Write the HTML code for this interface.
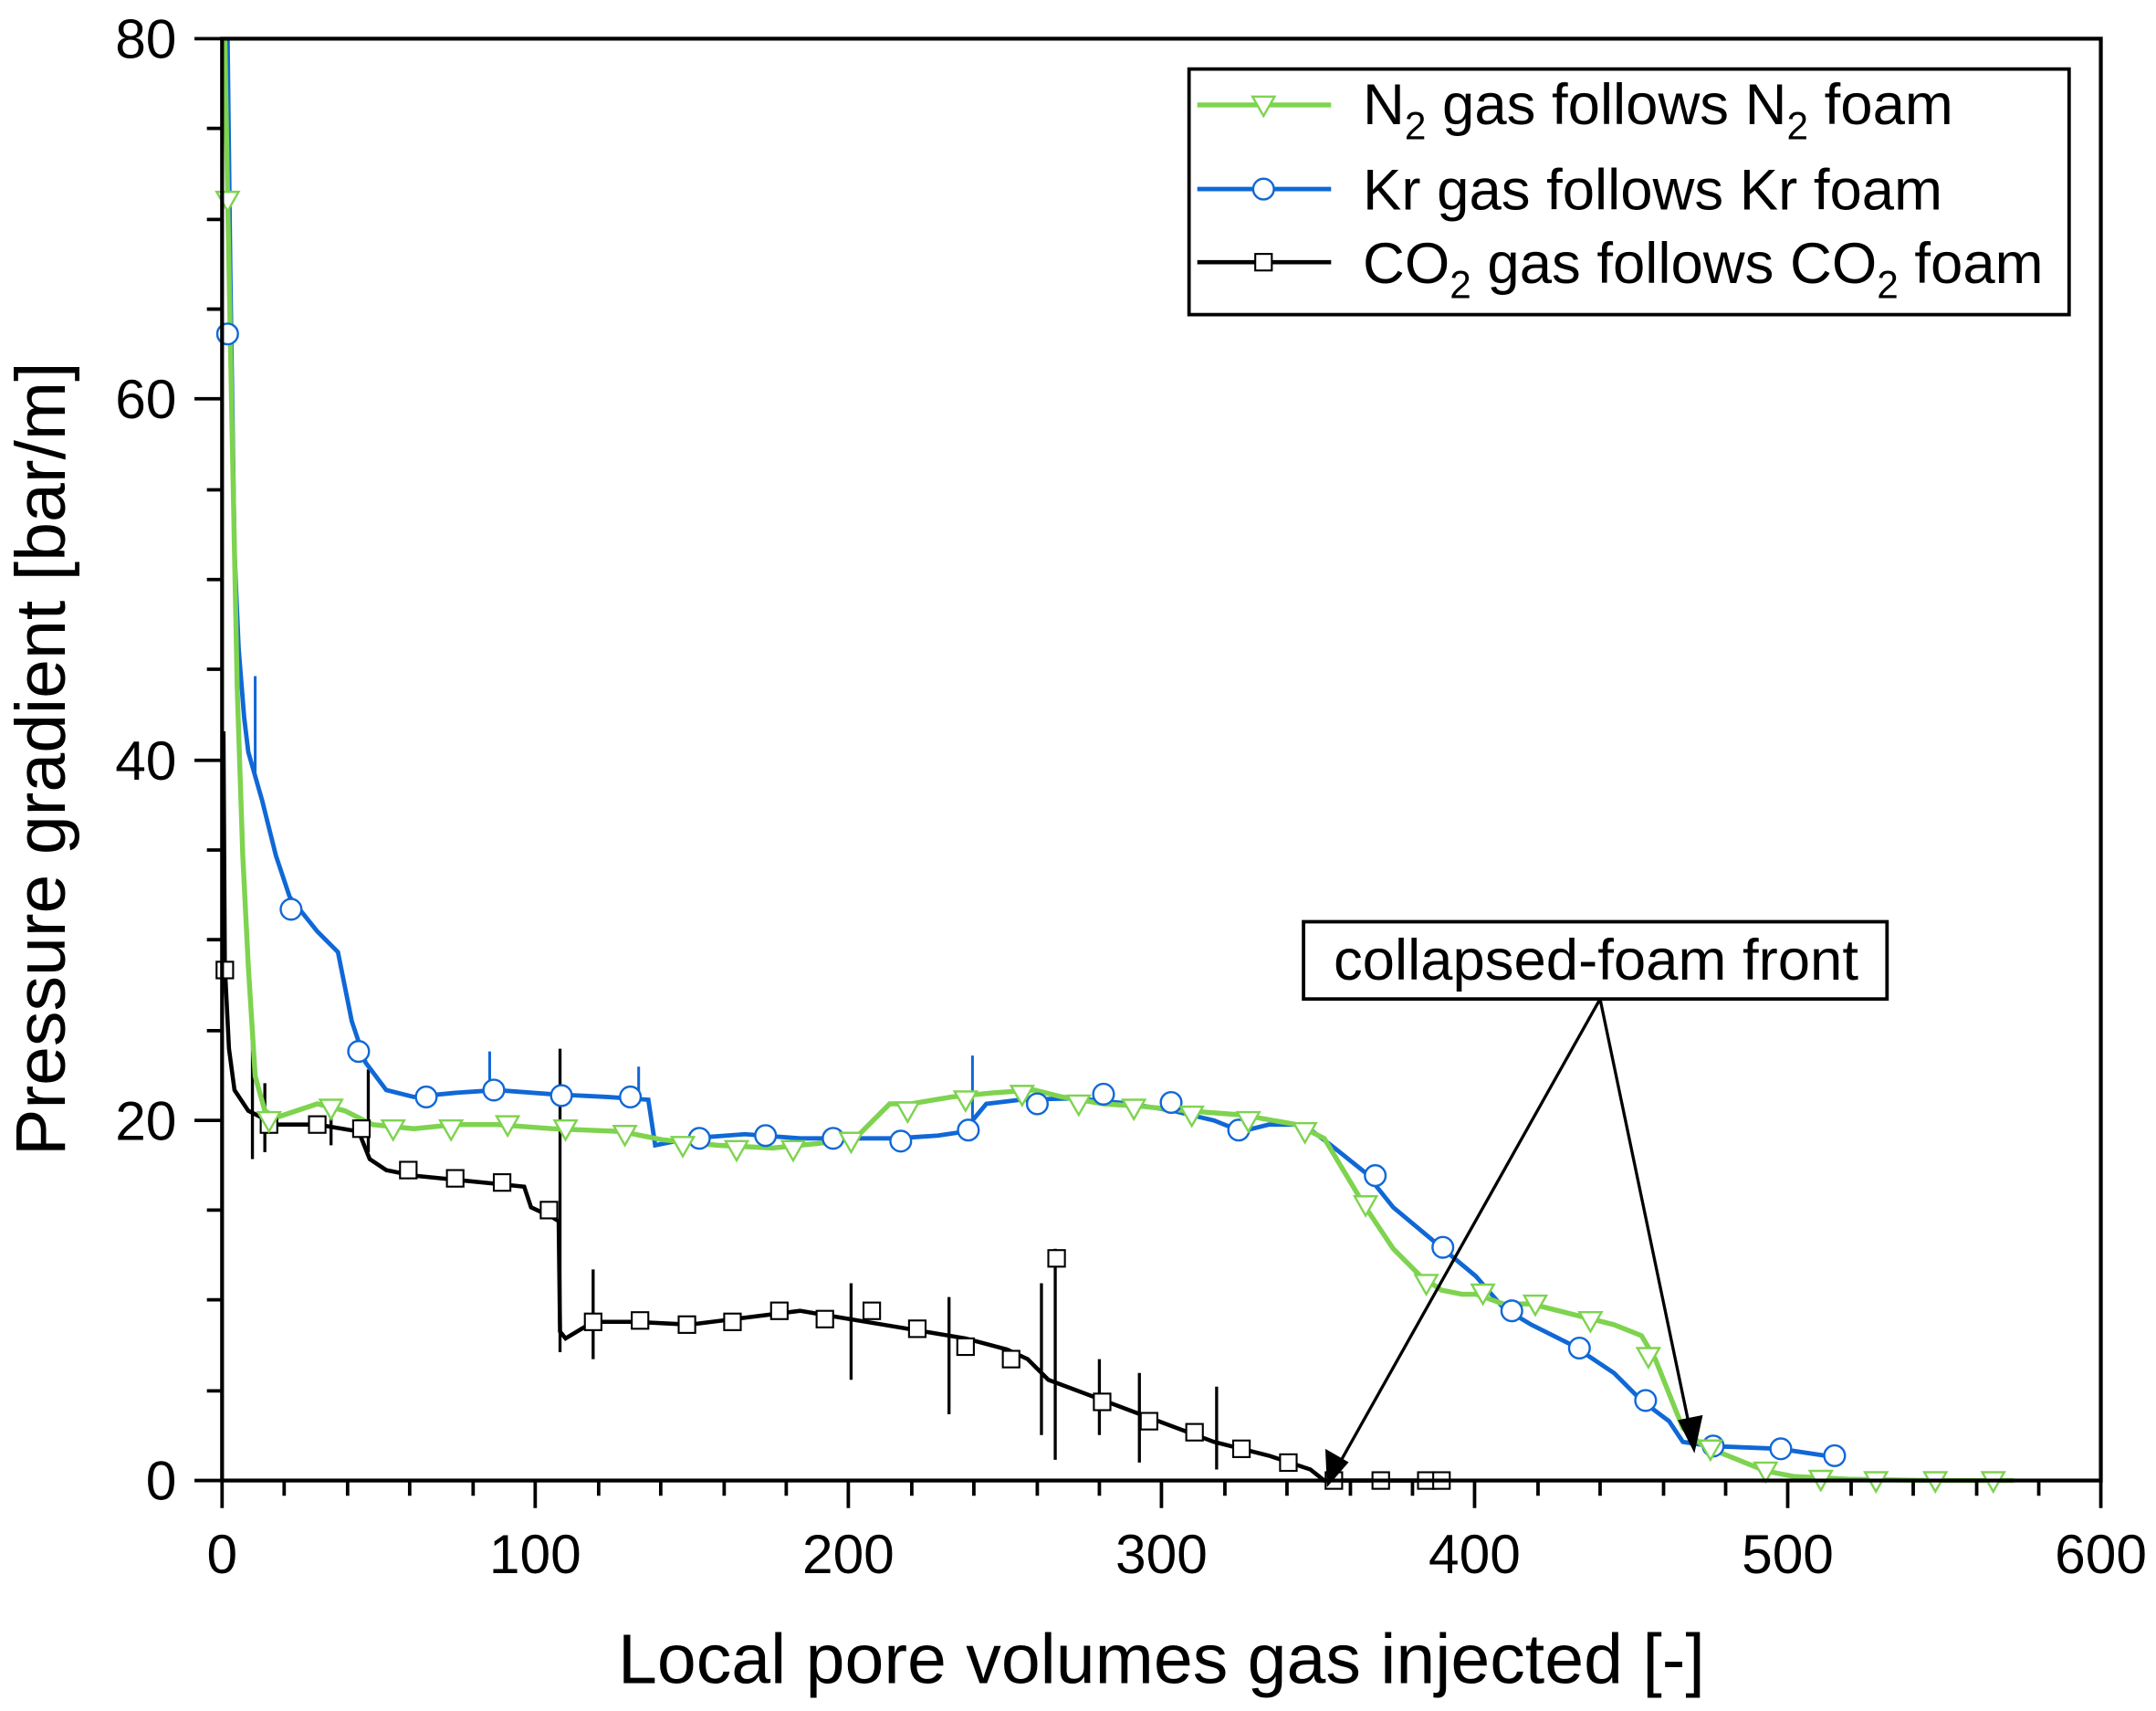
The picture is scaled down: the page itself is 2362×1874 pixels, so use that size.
<!DOCTYPE html>
<html><head><meta charset="utf-8"><style>html,body{margin:0;padding:0;background:#fff}svg{display:block}</style></head>
<body>
<svg width="2362" height="1874" viewBox="0 0 1563 1240" xmlns="http://www.w3.org/2000/svg" font-family="'Liberation Sans', sans-serif">
<rect width="1563" height="1240" fill="#fff"/>
<defs>
<path id="tri" d="M-8,-6 L8,-6 L0,8 Z" fill="#fff" stroke="#7ed34f" stroke-width="1.6"/>
<circle id="cir" r="7.5" fill="#fff" stroke="#1068d6" stroke-width="1.6"/>
<rect id="sq" x="-6" y="-6" width="12" height="12" fill="#fff" stroke="#000" stroke-width="1.4"/>
</defs>
<g stroke="#000" stroke-width="3" fill="none">
<polyline points="162,530 163,700 166,760 170,790 180,805 200,815 230,815 260,820 268,840 280,848 300,852 330,855 360,858 380,860 385,875 400,882 405,885 406,965 410,970 430,958 460,958 500,960 540,955 580,950 610,955 640,960 670,965 700,970 730,978 745,985 760,1000 800,1015 840,1030 880,1045 920,1055 950,1065 960,1073 1045,1073"/>
<path d="M183,755V840 M267,775V835 M406,760V980 M430,920V985 M617,930V1000 M688,940V1025 M755,930V1040 M765,905V1058 M797,985V1040 M826,995V1060 M882,1005V1065 M192,785V835 M240,800V830" stroke-width="2.2"/>
</g>
<g stroke="#1068d6" stroke-width="3.2" fill="none">
<polyline points="165,28 167,200 170,400 173,470 177,520 180,545 190,580 200,620 210,650 230,675 245,690 255,740 265,770 280,790 300,795 330,792 360,790 400,793 440,795 470,797 475,830 500,825 540,822 580,825 620,825 650,825 680,823 700,820 705,812 715,800 740,797 780,796 820,800 850,805 880,812 900,820 920,815 945,815 965,830 990,850 1010,875 1040,900 1070,925 1090,948 1110,960 1140,975 1170,995 1190,1015 1210,1030 1220,1045 1240,1048 1290,1050 1330,1056"/>
<path d="M355,762V795 M463,773V800 M705,765V812 M185,490V560" stroke-width="2"/>
</g>
<g stroke="#7ed34f" stroke-width="3.6" fill="none">
<polyline points="163,28 165,140 168,300 172,500 176,620 180,700 185,780 192,805 200,810 230,800 250,805 270,815 300,818 330,815 360,815 400,818 450,820 480,826 520,830 560,832 600,828 620,825 630,815 645,800 660,800 690,795 720,792 750,790 770,795 800,800 830,802 860,805 900,808 940,815 960,825 975,850 990,875 1010,905 1030,925 1045,935 1060,938 1070,938 1090,945 1110,945 1130,950 1150,955 1170,960 1190,968 1200,985 1210,1010 1220,1035 1235,1048 1260,1058 1280,1066 1300,1070 1340,1072 1400,1073 1460,1073"/>
</g>
<g>
<use href="#sq" x="163" y="703"/><use href="#sq" x="195" y="815"/><use href="#sq" x="230" y="815"/><use href="#sq" x="262" y="818"/><use href="#sq" x="296" y="848"/><use href="#sq" x="330" y="854"/><use href="#sq" x="364" y="857"/><use href="#sq" x="398" y="877"/><use href="#sq" x="430" y="958"/><use href="#sq" x="464" y="957"/><use href="#sq" x="498" y="960"/><use href="#sq" x="531" y="958"/><use href="#sq" x="565" y="950"/><use href="#sq" x="598" y="956"/><use href="#sq" x="632" y="950"/><use href="#sq" x="665" y="963"/><use href="#sq" x="700" y="976"/><use href="#sq" x="733" y="985"/><use href="#sq" x="766" y="912"/><use href="#sq" x="799" y="1016"/><use href="#sq" x="833" y="1030"/><use href="#sq" x="866" y="1038"/><use href="#sq" x="900" y="1050"/><use href="#sq" x="934" y="1060"/><use href="#sq" x="967" y="1073"/><use href="#sq" x="1001" y="1073"/><use href="#sq" x="1034" y="1073"/><use href="#sq" x="1045" y="1073"/>
</g>
<g>
<use href="#cir" x="165" y="242"/><use href="#cir" x="211" y="659"/><use href="#cir" x="260" y="762"/><use href="#cir" x="309" y="795"/><use href="#cir" x="358" y="790"/><use href="#cir" x="407" y="794"/><use href="#cir" x="457" y="795"/><use href="#cir" x="507" y="825"/><use href="#cir" x="555" y="823"/><use href="#cir" x="604" y="825"/><use href="#cir" x="653" y="827"/><use href="#cir" x="702" y="819"/><use href="#cir" x="752" y="800"/><use href="#cir" x="800" y="793"/><use href="#cir" x="849" y="799"/><use href="#cir" x="898" y="819"/><use href="#cir" x="997" y="852"/><use href="#cir" x="1046" y="904"/><use href="#cir" x="1096" y="950"/><use href="#cir" x="1145" y="977"/><use href="#cir" x="1193" y="1015"/><use href="#cir" x="1242" y="1048"/><use href="#cir" x="1291" y="1050"/><use href="#cir" x="1330" y="1055"/>
</g>
<g>
<use href="#tri" x="165" y="145"/><use href="#tri" x="195" y="812"/><use href="#tri" x="240" y="803"/><use href="#tri" x="285" y="818"/><use href="#tri" x="327" y="818"/><use href="#tri" x="368" y="815"/><use href="#tri" x="410" y="818"/><use href="#tri" x="453" y="822"/><use href="#tri" x="495" y="830"/><use href="#tri" x="534" y="833"/><use href="#tri" x="575" y="833"/><use href="#tri" x="617" y="827"/><use href="#tri" x="658" y="805"/><use href="#tri" x="700" y="797"/><use href="#tri" x="741" y="793"/><use href="#tri" x="782" y="800"/><use href="#tri" x="822" y="803"/><use href="#tri" x="864" y="808"/><use href="#tri" x="905" y="812"/><use href="#tri" x="946" y="820"/><use href="#tri" x="990" y="873"/><use href="#tri" x="1034" y="930"/><use href="#tri" x="1075" y="937"/><use href="#tri" x="1113" y="945"/><use href="#tri" x="1153" y="957"/><use href="#tri" x="1195" y="983"/><use href="#tri" x="1240" y="1050"/><use href="#tri" x="1280" y="1066"/><use href="#tri" x="1320" y="1072"/><use href="#tri" x="1360" y="1073"/><use href="#tri" x="1403" y="1073"/><use href="#tri" x="1445" y="1073"/>
</g>
<rect x="161" y="28" width="1362" height="1045" fill="none" stroke="#000" stroke-width="2.8"/>
<g stroke="#000" stroke-width="2.5">
<path d="M161,1073v20 M388,1073v20 M615,1073v20 M842,1073v20 M1069,1073v20 M1296,1073v20 M1523,1073v20"/>
<path d="M206,1073v11 M252,1073v11 M297,1073v11 M343,1073v11 M434,1073v11 M479,1073v11 M525,1073v11 M570,1073v11 M661,1073v11 M706,1073v11 M752,1073v11 M797,1073v11 M888,1073v11 M933,1073v11 M979,1073v11 M1024,1073v11 M1115,1073v11 M1160,1073v11 M1206,1073v11 M1251,1073v11 M1342,1073v11 M1387,1073v11 M1433,1073v11 M1478,1073v11"/>
<path d="M161,1073h-20 M161,812h-20 M161,551h-20 M161,289h-20 M161,28h-20"/>
<path d="M161,1008h-11 M161,942h-11 M161,877h-11 M161,747h-11 M161,681h-11 M161,616h-11 M161,485h-11 M161,420h-11 M161,355h-11 M161,224h-11 M161,159h-11 M161,93h-11"/>
</g>
<g font-size="40" text-anchor="middle" fill="#000">
<text x="161" y="1140">0</text><text x="388" y="1140">100</text><text x="615" y="1140">200</text><text x="842" y="1140">300</text><text x="1069" y="1140">400</text><text x="1296" y="1140">500</text><text x="1523" y="1140">600</text>
</g>
<g font-size="40" text-anchor="end" fill="#000">
<text x="128" y="1087">0</text><text x="128" y="826">20</text><text x="128" y="565">40</text><text x="128" y="303">60</text><text x="128" y="42">80</text>
</g>
<text x="842" y="1220" font-size="51" text-anchor="middle">Local pore volumes gas injected [-]</text>
<text transform="translate(47,550) rotate(-90)" font-size="51" text-anchor="middle">Pressure gradient [bar/m]</text>
<rect x="862" y="50" width="638" height="178" fill="#fff" stroke="#000" stroke-width="2.5"/>
<line x1="868" y1="76" x2="965" y2="76" stroke="#7ed34f" stroke-width="3.6"/><use href="#tri" x="916" y="76"/>
<line x1="868" y1="137" x2="965" y2="137" stroke="#1068d6" stroke-width="3.2"/><use href="#cir" x="916" y="137"/>
<line x1="868" y1="190" x2="965" y2="190" stroke="#000" stroke-width="3"/><use href="#sq" x="916" y="190"/>
<g font-size="42" fill="#000">
<text x="988" y="90">N<tspan font-size="28" dy="11">2</tspan><tspan dy="-11"> gas follows N</tspan><tspan font-size="28" dy="11">2</tspan><tspan dy="-11"> foam</tspan></text>
<text x="988" y="152">Kr gas follows Kr foam</text>
<text x="988" y="205">CO<tspan font-size="28" dy="11">2</tspan><tspan dy="-11"> gas follows CO</tspan><tspan font-size="28" dy="11">2</tspan><tspan dy="-11"> foam</tspan></text>
</g>
<rect x="945" y="668" width="423" height="56" fill="#fff" stroke="#000" stroke-width="2.5"/>
<text x="1157" y="710" font-size="42" text-anchor="middle">collapsed-foam front</text>
<g stroke="#000" stroke-width="2.2" fill="#000">
<line x1="1160" y1="724" x2="968" y2="1066"/>
<path d="M963,1075 L962,1052 L976,1060 Z"/>
<line x1="1160" y1="724" x2="1226" y2="1040"/>
<path d="M1228,1050 L1218,1030 L1233,1027 Z"/>
</g>
</svg>
</body></html>
